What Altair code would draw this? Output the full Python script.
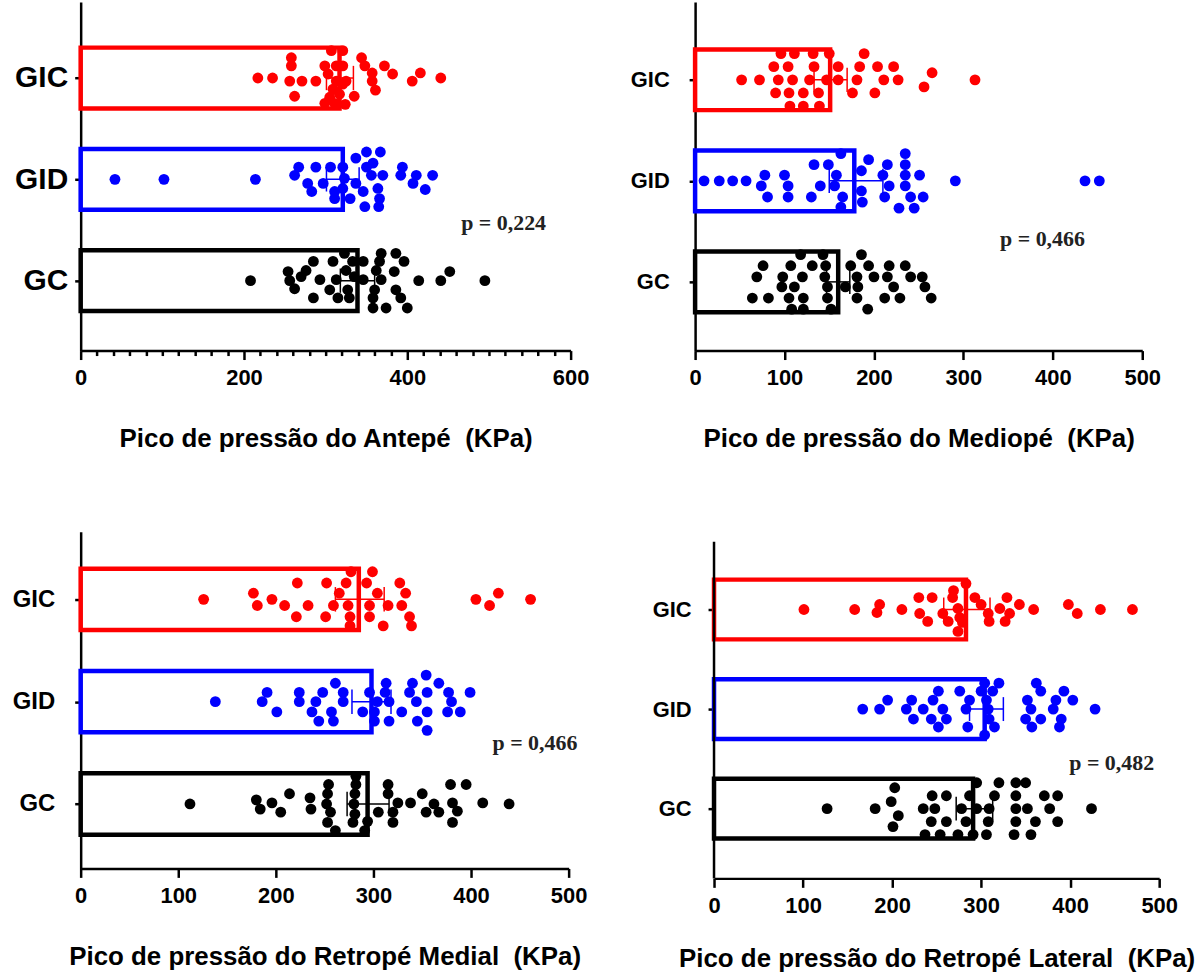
import altair as alt
import pandas as pd

GROUPS = ["GC", "GID", "GIC"]          # y index 0, 1, 2
COLORS = ["#000000", "#0000ff", "#ff0000"]

# ---------------- Panel 1 : Antepé ----------------
P1_GIC_X = [217, 235, 258, 258, 256, 271, 262, 288, 299, 307, 321, 321, 303, 313, 309, 321, 317, 305, 311, 325,
            313, 299, 324, 335, 344, 348, 357, 357, 361, 372, 382, 406, 416, 441]
P1_GIC_DY = [0, 0, 0.20, 0.12, -0.03, -0.03, -0.18, -0.03, 0.12, 0.27, 0.27, 0.12, 0.04, -0.03, -0.11, -0.06, -0.16,
             -0.19, -0.25, -0.03, 0.12, -0.25, -0.26, -0.18, 0.20, 0.12, 0.05, -0.03, -0.12, 0.12, 0.04, -0.03, 0.05, 0]
P1_GID_X = [42, 102, 214, 262, 267, 278, 283, 288, 297, 306, 311, 311, 321, 323, 321, 330, 337, 337, 346, 348,
            350, 350, 356, 358, 364, 366, 365, 367, 370, 394, 392, 407, 411, 422, 431]
P1_GID_DY = [0, 0, 0, 0.04, 0.12, -0.04, -0.12, 0.12, -0.04, 0.12, -0.12, -0.19, 0.12, 0.01, -0.09, -0.19, 0.21,
             -0.04, -0.12, -0.27, 0.27, 0.12, 0.04, 0.16, -0.09, -0.19, -0.27, 0.27, 0.04, 0.12, 0.04, -0.04, 0.04,
             -0.10, 0.04]
P1_GC_X = [208, 254, 256, 262, 270, 276, 285, 285, 293, 305, 309, 313, 315, 323, 325, 327, 329, 333, 335, 346,
           346, 358, 358, 360, 362, 366, 368, 368, 374, 384, 386, 386, 392, 396, 400, 414, 441, 452, 495]
P1_GC_DY = [0, 0.09, 0, -0.08, 0.04, 0.10, 0.19, -0.17, 0.01, -0.09, 0.19, 0.01, -0.17, 0.27, 0.10, -0.09, -0.17,
            0.19, 0.04, 0.19, 0.01, -0.17, -0.27, -0.09, 0.10, 0.19, 0.27, 0.01, -0.27, 0.09, 0.27, -0.09, -0.17,
            0.19, -0.27, 0, 0, 0.09, 0]
P1_MEAN = [339, 321, 317]       # GC, GID, GIC
P1_LO = [318, 301, 301]
P1_HI = [360, 341, 334]

# ---------------- Panel 2 : Mediopé ----------------
P2_GIC_X = [52, 72, 88, 93, 90, 96, 104, 109, 105, 106, 111, 121, 121, 128, 132, 133, 138, 139, 147, 150,
            160, 160, 176, 181, 184, 189, 201, 204, 211, 222, 227, 256, 265, 313]
P2_GIC_DY = [0, 0, 0.13, 0, -0.13, 0.26, 0.13, 0, -0.13, -0.26, 0.26, -0.13, -0.26, 0, 0.26, 0.13, -0.13, -0.26,
             0, 0.26, 0.13, 0, -0.13, 0, 0.13, 0.26, -0.13, 0.13, 0, 0.13, 0, -0.07, 0.07, 0]
P2_GID_X = [10, 27, 42, 57, 78, 74, 81, 100, 104, 104, 130, 133, 140, 149, 158, 156, 163, 165, 163, 186,
            186, 187, 194, 210, 215, 217, 212, 228, 235, 235, 235, 235, 241, 245, 251, 255, 291, 436, 452]
P2_GID_DY = [0, 0, 0, 0, 0.056, -0.05, -0.16, 0.056, -0.05, -0.16, -0.16, 0.16, -0.05, 0.16, 0.056, -0.05, 0.27,
             -0.16, -0.26, 0.1, -0.1, -0.21, 0.21, 0.056, 0.16, -0.05, -0.16, -0.27, 0.27, 0.16, 0.056, -0.05,
             -0.16, -0.27, 0.056, -0.16, 0, 0, 0]
P2_GC_X = [64, 69, 76, 82, 97, 98, 105, 108, 107, 111, 118, 120, 121, 121, 131, 143, 146, 145, 148, 148,
           152, 168, 174, 181, 182, 181, 186, 193, 194, 200, 212, 217, 215, 222, 229, 235, 241, 254, 257, 264]
P2_GC_DY = [-0.16, 0.05, 0.16, -0.16, -0.05, 0.05, -0.16, -0.27, 0.16, -0.05, 0.27, 0.05, -0.16, -0.27, 0.16,
            0.27, 0.16, 0.05, -0.05, -0.16, -0.27, -0.05, 0.16, 0.05, -0.05, -0.16, 0.27, -0.27, 0.16, 0.05,
            -0.16, 0.16, 0.05, -0.05, -0.16, 0.16, 0.05, 0.05, -0.05, -0.16]
P2_MEAN = [160, 178, 151]
P2_LO = [147, 150, 133]
P2_HI = [173, 210, 170]

# ---------------- Panel 3 : Retropé Medial ----------------
P3_GIC_X = [126, 177, 181, 196, 209, 222, 221, 233, 252, 251, 259, 265, 272, 274, 276, 276, 277, 293, 296, 296,
            299, 304, 310, 315, 327, 333, 329, 337, 339, 405, 419, 428, 461]
P3_GIC_DY = [0, 0.06, -0.06, 0, -0.06, 0.16, -0.17, -0.06, 0.16, -0.17, -0.06, 0.06, 0.16, -0.06, -0.17, -0.26,
             0.27, 0.16, -0.06, -0.17, 0.27, 0.06, -0.26, -0.06, 0.16, 0.06, -0.06, -0.17, -0.26, 0, -0.06, 0.06, 0]
P3_GID_X = [138, 186, 191, 201, 224, 224, 237, 241, 244, 248, 257, 259, 261, 269, 269, 289, 296, 301, 301, 304,
            313, 312, 316, 316, 329, 337, 340, 344, 345, 354, 355, 355, 355, 367, 377, 380, 376, 389, 399]
P3_GID_DY = [0, 0, 0.09, -0.1, 0.09, 0, -0.1, 0, -0.19, 0.09, -0.1, -0.19, 0.18, 0.09, 0, -0.1, 0.09, -0.1, -0.19,
             0, 0.18, 0.09, 0, -0.19, -0.1, 0.09, 0.18, 0, -0.19, 0.26, 0.09, -0.1, -0.28, 0.18, 0.09, 0, -0.1,
             -0.1, 0.09]
P3_GC_X = [112, 180, 184, 196, 205, 214, 235, 236, 254, 253, 252, 256, 253, 261, 282, 282, 281, 280, 281, 279,
           291, 294, 305, 315, 315, 320, 320, 325, 338, 350, 354, 362, 367, 379, 381, 386, 381, 395, 412, 439]
P3_GC_DY = [0, 0.04, -0.05, 0.01, -0.08, 0.1, 0.06, -0.05, 0.19, 0.1, 0, -0.08, -0.18, -0.26, 0.27, 0.19, 0.1, 0,
            -0.1, -0.18, -0.26, -0.17, -0.08, 0.19, 0.1, -0.08, -0.18, 0.01, 0.01, 0.1, -0.08, 0, -0.08, 0.19,
            0.01, -0.07, -0.18, 0.19, 0.01, 0]
P3_MEAN = [294, 298, 285]
P3_LO = [273, 278, 261]
P3_HI = [316, 318, 311]

# ---------------- Panel 4 : Retropé Lateral ----------------
P4_GIC_X = [101, 158, 183, 186, 211, 230, 231, 240, 245, 257, 263, 269, 268, 274, 276, 279, 274, 283, 293, 300,
            308, 309, 321, 329, 327, 332, 343, 359, 398, 408, 434, 470]
P4_GIC_DY = [0, 0, -0.03, 0.05, 0, 0.12, -0.04, -0.12, 0.12, -0.04, -0.12, 0.19, 0.12, 0.01, -0.08, -0.13, -0.22,
             0.26, 0.12, 0.05, -0.04, -0.12, 0.01, 0.12, -0.12, -0.04, 0.05, 0, 0.05, -0.04, 0, 0]
P4_GID_X = [167, 186, 195, 216, 222, 224, 235, 244, 246, 252, 252, 257, 261, 276, 283, 285, 287, 300, 304, 306,
            308, 309, 315, 304, 313, 320, 352, 350, 356, 357, 362, 367, 367, 381, 384, 390, 388, 393, 403, 428]
P4_GID_DY = [0, 0, 0.09, 0, 0.09, -0.1, 0, -0.1, 0.09, 0.18, -0.18, 0, -0.1, 0.18, 0, -0.18, 0.09, 0.18, 0.26,
             0.09, 0, -0.1, -0.18, -0.26, 0.18, 0.26, 0.09, -0.1, 0, -0.18, 0.26, 0.18, -0.1, 0, 0.09, -0.1, -0.18,
             0.18, 0.09, 0]
P4_GC_X = [127, 181, 201, 203, 199, 207, 235, 237, 245, 244, 248, 254, 261, 261, 274, 278, 283, 287, 291, 295,
           295, 308, 306, 309, 315, 320, 337, 339, 339, 339, 339, 350, 352, 356, 361, 371, 377, 386, 386, 424]
P4_GC_DY = [0, 0, -0.18, 0.21, 0.07, -0.07, 0, -0.26, 0.13, -0.13, 0, -0.26, 0.13, -0.13, -0.26, 0, -0.13, 0.13,
            -0.26, 0.26, 0, -0.13, -0.26, 0, 0.13, 0.26, -0.26, -0.13, 0, 0.13, 0.26, 0.26, 0, -0.26, -0.13, 0.13,
            0, 0.13, -0.13, 0]
P4_MEAN = [291, 304, 283]
P4_LO = [272, 287, 258]
P4_HI = [313, 325, 310]

NB = "\u00a0"
TITLES = ["Pico de pressão do Antepé " + NB + "(KPa)", "Pico de pressão do Mediopé " + NB + "(KPa)",
          "Pico de pressão do Retropé Medial " + NB + "(KPa)", "Pico de pressão do Retropé Lateral " + NB + "(KPa)"]
P_TEXT = ["p = 0,224", "p = 0,466", "p = 0,466", "p = 0,482"]
P_TEXT_X = [466, 341, 422, 399]
P_TEXT_Y = [0.57, 0.42, 0.60, 0.46]

FONT = "Liberation Sans"
color_scale = alt.Scale(domain=GROUPS, range=COLORS)


def panel(idx, dots, means, los, his, xmax, width, height, ydom, minor=False, axis_top=None,
          ylab_size=27, ylab_pad=7, title_pad=37):
    rows = []
    for gi, (xs, dys) in enumerate(dots):
        for xv, dy in zip(xs, dys):
            rows.append({"group": GROUPS[gi], "x": xv, "y": gi + dy})
    df_dots = pd.DataFrame(rows)
    df_bar = pd.DataFrame({"group": GROUPS, "zero": 0, "mean": means, "lo": los, "hi": his,
                           "g": [0, 1, 2], "y1": [g - 0.3 for g in range(3)], "y2": [g + 0.3 for g in range(3)],
                           "c1": [g - 0.12 for g in range(3)], "c2": [g + 0.12 for g in range(3)]})
    df_txt = pd.DataFrame({"x": [P_TEXT_X[idx]], "y": [P_TEXT_Y[idx]], "t": [P_TEXT[idx]]})

    common_x = dict(title=TITLES[idx], grid=False, labelFlush=False, labelOverlap=False, labelPadding=8,
                    titlePadding=title_pad, domainWidth=2.5, tickWidth=2.5, labelFontSize=22, titleFontSize=26)
    if minor:
        xaxis = alt.Axis(values=list(range(0, xmax + 1, 20)),
                         labelExpr="datum.value % 200 === 0 ? datum.label : ''",
                         tickSize={"condition": {"test": "datum.value % 200 === 0", "value": 9}, "value": 5},
                         **common_x)
    else:
        xaxis = alt.Axis(values=list(range(0, xmax + 1, 100)), tickSize=9, **common_x)

    yaxis = alt.Axis(values=[0, 1, 2], title=None, grid=False, tickSize=6, tickWidth=2.5, domainWidth=2.5,
                     labelPadding=ylab_pad, labelFontSize=ylab_size,
                     labelExpr="datum.value === 2 ? 'GIC' : (datum.value === 1 ? 'GID' : 'GC')",
                     domain=axis_top is None)

    xs = alt.Scale(domain=[0, xmax], nice=False, zero=True)
    ys = alt.Scale(domain=ydom, nice=False, zero=False)
    cs = alt.Color("group:N", scale=color_scale, legend=None)

    def X(f):
        return alt.X(f, scale=xs, axis=xaxis)

    def Y(f):
        return alt.Y(f, scale=ys, axis=yaxis)

    bars = alt.Chart(df_bar).mark_rect(filled=False, strokeWidth=4.5).encode(
        x=X("zero:Q"), x2="mean:Q", y=Y("y1:Q"), y2="y2:Q", color=cs)
    pts = alt.Chart(df_dots).mark_circle(size=118, opacity=1).encode(
        x=X("x:Q"), y=Y("y:Q"), color=cs)
    err = alt.Chart(df_bar).mark_rule(strokeWidth=1.5).encode(
        x=X("lo:Q"), x2="hi:Q", y=Y("g:Q"), color=cs)
    cap_lo = alt.Chart(df_bar).mark_rule(strokeWidth=1.5).encode(
        x=X("lo:Q"), y=Y("c1:Q"), y2="c2:Q", color=cs)
    cap_hi = alt.Chart(df_bar).mark_rule(strokeWidth=1.5).encode(
        x=X("hi:Q"), y=Y("c1:Q"), y2="c2:Q", color=cs)
    txt = alt.Chart(df_txt).mark_text(font="Liberation Serif", fontWeight="bold", fontSize=22, align="left",
                                      baseline="middle", color="#222222").encode(
        x=X("x:Q"), y=Y("y:Q"), text="t:N")
    layers = [bars, pts, err, cap_lo, cap_hi, txt]
    if axis_top is not None:
        df_ax = pd.DataFrame({"x": [0], "y1": [ydom[0]], "y2": [axis_top]})
        axl = alt.Chart(df_ax).mark_rule(strokeWidth=2.5, color="black").encode(
            x=X("x:Q"), y=Y("y1:Q"), y2="y2:Q")
        layers.append(axl)
    return alt.layer(*layers).properties(width=width, height=height)


p1 = panel(0, [(P1_GC_X, P1_GC_DY), (P1_GID_X, P1_GID_DY), (P1_GIC_X, P1_GIC_DY)],
           P1_MEAN, P1_LO, P1_HI, 600, 492, 350, [-0.69, 2.75], minor=True, ylab_size=30, ylab_pad=7)
p2 = panel(1, [(P2_GC_X, P2_GC_DY), (P2_GID_X, P2_GID_DY), (P2_GIC_X, P2_GIC_DY)],
           P2_MEAN, P2_LO, P2_HI, 500, 449, 350, [-0.68, 2.77], ylab_size=22, ylab_pad=20)
p3 = panel(2, [(P3_GC_X, P3_GC_DY), (P3_GID_X, P3_GID_DY), (P3_GIC_X, P3_GIC_DY)],
           P3_MEAN, P3_LO, P3_HI, 500, 490, 338, [-0.63, 2.66], ylab_size=24, ylab_pad=20)
p4 = panel(3, [(P4_GC_X, P4_GC_DY), (P4_GID_X, P4_GID_DY), (P4_GIC_X, P4_GIC_DY)],
           P4_MEAN, P4_LO, P4_HI, 500, 447, 348, [-0.70, 2.78], axis_top=2.68,
           ylab_size=22, ylab_pad=17, title_pad=29)

row1 = alt.hconcat(p1, p2, spacing=125, bounds="flush")
row2 = alt.hconcat(p3, p4, spacing=146, bounds="flush")
chart = alt.vconcat(row1, row2, spacing=81).properties(
    padding={"left": 12, "top": 0, "right": 5, "bottom": 5}
).configure_view(stroke=None).configure_axis(
    labelFont=FONT, titleFont=FONT, labelFontWeight="bold", titleFontWeight="bold",
    labelColor="black", titleColor="black", domainColor="black", tickColor="black",
)

chart.save("out.html", embed_options={"renderer": "svg", "actions": False})
